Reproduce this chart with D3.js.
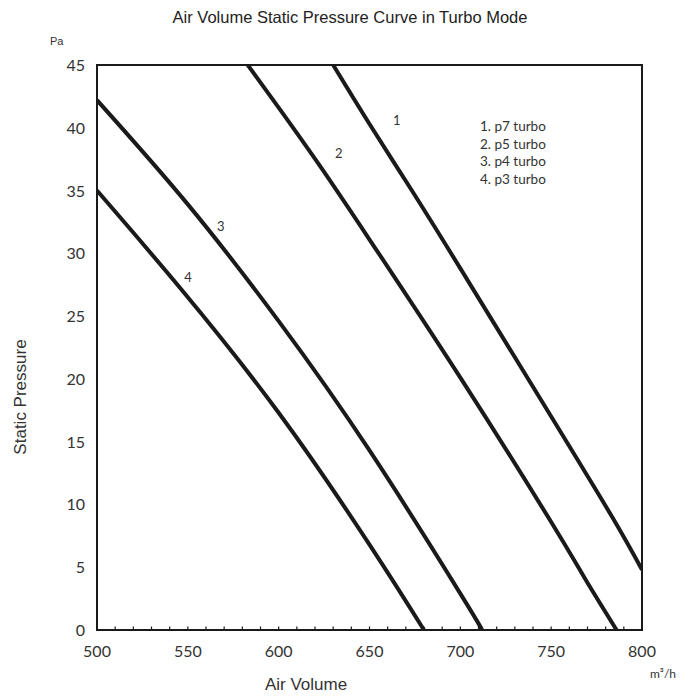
<!DOCTYPE html>
<html><head><meta charset="utf-8">
<script src="https://cdn.jsdelivr.net/npm/d3@7"></script>
<style>body{margin:0;background:#fff}</style>
</head><body>
<svg id="c" width="700" height="696"></svg>
<script>
const xTicks = [500,550,600,650,700,750,800];
const yTicks = [0,5,10,15,20,25,30,35,40,45];
const curveNames = ["1","2","3","4"];
const legendLabels = ["1. p7 turbo","2. p5 turbo","3. p4 turbo","4. p3 turbo"];
const curve1X = [630,650,672,700,750,784,800];
const curve1Y = [45,40.3,35.3,28.8,17.0,8.9,4.8];
const curve2X = [583,600,623,650,700,750,769,786];
const curve2Y = [45,41.6,36.9,31.1,20.1,8.6,4.0,0];
const curve3X = [500,550,600,650,700,712];
const curve3Y = [42.2,33.9,24.6,14.3,2.9,0];
const curve4X = [500,546,600,650,680];
const curve4Y = [35,27.2,17.3,6.8,0];
const labelPos = [[663,40.2],[631,37.6],[566,31.8],[548,27.7]];

const svg = d3.select("#c");
const x = d3.scaleLinear().domain([500,800]).range([97,642]);
const y = d3.scaleLinear().domain([0,45]).range([630,65]);
const ink = "#1a1a1a";
const sf = "Liberation Sans, Arial, sans-serif";
const tf = "Lato, Carlito, Calibri, sans-serif";

svg.append("text").attr("x",350).attr("y",23).attr("text-anchor","middle")
  .attr("font-family",sf).attr("font-size",16.5).attr("fill","#222")
  .text("Air Volume Static Pressure Curve in Turbo Mode");

svg.append("defs").append("clipPath").attr("id","pc").append("rect")
  .attr("x",x(500)).attr("y",y(45)).attr("width",x(800)-x(500)).attr("height",y(0)-y(45));

const series = [[curve1X,curve1Y],[curve2X,curve2Y],[curve3X,curve3Y],[curve4X,curve4Y]];
const line = d3.line().x(d=>x(d[0])).y(d=>y(d[1])).curve(d3.curveNatural);
const g = svg.append("g").attr("clip-path","url(#pc)");
series.forEach(([xs,ys])=>{
  g.append("path").attr("d",line(xs.map((v,i)=>[v,ys[i]])))
   .attr("fill","none").attr("stroke",ink).attr("stroke-width",4);
});

const minor = d3.range(510,800,10);
svg.append("g").selectAll("line").data(minor).join("line")
  .attr("x1",d=>x(d)).attr("x2",d=>x(d)).attr("y1",y(0)).attr("y2",y(0)-3.5)
  .attr("stroke",ink).attr("stroke-width",1.2);

svg.append("rect").attr("x",x(500)).attr("y",y(45)).attr("width",x(800)-x(500)).attr("height",y(0)-y(45))
  .attr("fill","none").attr("stroke",ink).attr("stroke-width",2);

svg.append("g").selectAll("text").data(xTicks).join("text")
  .attr("x",d=>x(d)).attr("y",657).attr("text-anchor","middle")
  .attr("font-family",tf).attr("font-size",16).attr("fill","#333").text(d=>d);
svg.append("g").selectAll("text").data(yTicks).join("text")
  .attr("x",85).attr("y",d=>y(d)+6).attr("text-anchor","end")
  .attr("font-family",tf).attr("font-size",16).attr("fill","#333").text(d=>d);

svg.append("text").attr("x",50).attr("y",45).attr("font-family",sf)
  .attr("font-size",11).attr("fill","#333").text("Pa");
svg.append("text").attr("x",306).attr("y",690).attr("text-anchor","middle")
  .attr("font-family",sf).attr("font-size",17).attr("fill","#333").text("Air Volume");
svg.append("text").attr("transform","translate(26,397) rotate(-90)").attr("text-anchor","middle")
  .attr("font-family",sf).attr("font-size",17).attr("fill","#333").text("Static Pressure");
svg.append("text").attr("x",650).attr("y",678).attr("font-family",tf)
  .attr("font-size",12).attr("fill","#333").text("m³/h");

svg.append("g").selectAll("text").data(legendLabels).join("text")
  .attr("x",480).attr("y",(d,i)=>131+i*17.5).attr("font-family",tf)
  .attr("font-size",13.5).attr("fill","#333").text(d=>d);

svg.append("g").selectAll("text").data(curveNames).join("text")
  .attr("x",(d,i)=>x(labelPos[i][0])).attr("y",(d,i)=>y(labelPos[i][1]))
  .attr("font-family",tf).attr("font-size",13).attr("fill","#333").text(d=>d);
</script>
</body></html>
